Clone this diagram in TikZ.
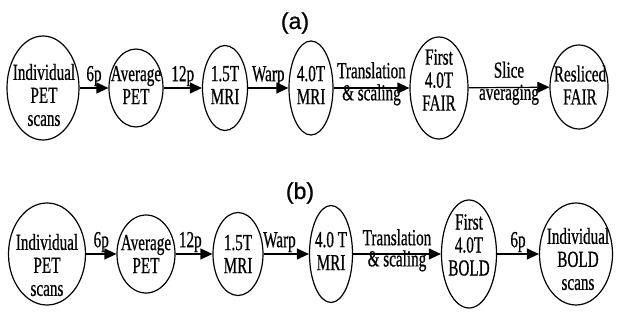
\documentclass[tikz,border=0pt]{standalone}
\usepackage{fontspec}
\setmainfont{Liberation Serif}[FakeStretch=0.66, FakeBold=0.6]
\newfontfamily\panelfont{Liberation Sans}[FakeBold=0.8]
\usetikzlibrary{shapes.geometric,arrows.meta}

\begin{document}
\begin{tikzpicture}[x=1pt, y=-1pt,
    stage/.style={ellipse, draw, line width=1.2pt, inner sep=0pt},
    words/.style={align=center, inner sep=0pt, font=\fontsize{23}{23}\selectfont},
    flow/.style={-{Triangle[length=12pt,width=11pt]}, line width=1.2pt},
    tag/.style={font=\fontsize{23}{23}\selectfont, inner sep=0pt,
        text height=0.68em, text depth=0.22em},
    panel/.style={font=\panelfont\fontsize{23}{24}\selectfont}]
    \useasboundingbox (0,0) rectangle (619,321);

    % (a) FAIR chain
    \node[panel] (ta) at (295,23) {(a)};
    \node[stage, minimum width=72pt, minimum height=104pt] (a1) at (43,88) {};
    \node[words] (a1t) at (44,95) {Individual\\PET\\scans};
    \node[stage, minimum width=54pt, minimum height=78pt] (a2) at (136,88) {};
    \node[words] (a2t) at (136,85) {Average\\PET};
    \node[stage, minimum width=45pt, minimum height=85pt] (a3) at (225,88) {};
    \node[words] (a3t) at (225,85) {1.5T\\MRI};
    \node[stage, minimum width=44pt, minimum height=94pt] (a4) at (311,88) {};
    \node[words] (a4t) at (311,85) {4.0T\\MRI};
    \node[stage, minimum width=58pt, minimum height=102pt] (a5) at (439,88) {};
    \node[words] (a5t) at (439,80) {First\\4.0T\\FAIR};
    \node[stage, minimum width=58pt, minimum height=84pt] (a6) at (579,87) {};
    \node[words] (a6t) at (580,85) {Resliced\\FAIR};

    \draw[flow] (a1) -- (a2) node[tag, midway, above=4pt] (la1) {6p};
    \draw[flow] (a2) -- (a3) node[tag, midway, above=4pt] (la2) {12p};
    \draw[flow] (a3) -- (a4) node[tag, midway, above=4pt] (la3) {Warp};
    \draw[flow] (a4) -- (a5) node[tag, midway, above=7pt] (la4) {Translation}
        node[tag, midway, below=5pt] (la4b) {\& scaling};
    \draw[flow] (a5) -- (a6) node[tag, midway, above=7pt] (la5) {Slice}
        node[tag, midway, below=5pt] (la5b) {averaging};

    % (b) BOLD chain
    \node[panel] (tb) at (300,193) {(b)};
    \node[stage, minimum width=77pt, minimum height=102pt] (b1) at (47,254) {};
    \node[words] (b1t) at (47,265) {Individual\\PET\\scans};
    \node[stage, minimum width=58pt, minimum height=78pt] (b2) at (146,254) {};
    \node[words] (b2t) at (146,254) {Average\\PET};
    \node[stage, minimum width=50pt, minimum height=83pt] (b3) at (238,254) {};
    \node[words] (b3t) at (238,254) {1.5T\\MRI};
    \node[stage, minimum width=43pt, minimum height=97pt] (b4) at (331,254) {};
    \node[words] (b4t) at (331,251) {4.0 T\\MRI};
    \node[stage, minimum width=55pt, minimum height=108pt] (b5) at (469,254) {};
    \node[words] (b5t) at (469,245) {First\\4.0T\\BOLD};
    \node[stage, minimum width=73pt, minimum height=102pt] (b6) at (576,254) {};
    \node[words] (b6t) at (578,259) {Individual\\BOLD\\scans};

    \draw[flow] (b1) -- (b2) node[tag, midway, above=4pt] (lb1) {6p};
    \draw[flow] (b2) -- (b3) node[tag, pos=0.4, above=4pt] (lb2) {12p};
    \draw[flow] (b3) -- (b4) node[tag, pos=0.35, above=4pt] (lb3) {Warp};
    \draw[flow] (b4) -- (b5) node[tag, midway, above=6pt] (lb4) {Translation}
        node[tag, midway, below=5pt] (lb4b) {\& scaling};
    \draw[flow] (b5) -- (b6) node[tag, midway, above=4pt] (lb5) {6p};
\end{tikzpicture}
\end{document}
